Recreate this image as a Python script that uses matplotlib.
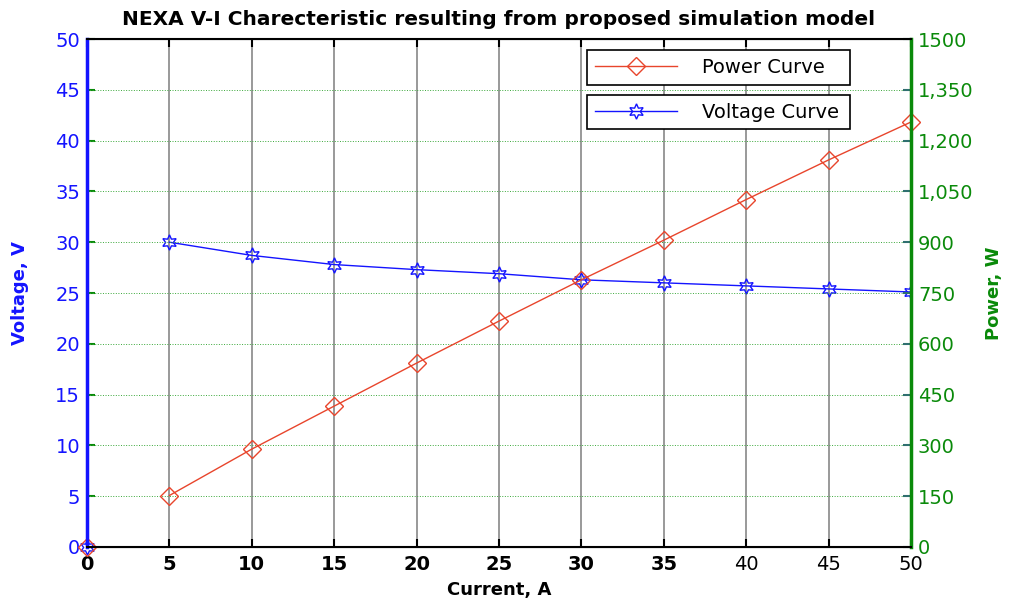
import matplotlib
matplotlib.use("Agg")
import matplotlib.pyplot as plt
import numpy as np

current = [0, 5, 10, 15, 20, 25, 30, 35, 40, 45, 50]
voltage = [0, 30.0, 28.7, 27.8, 27.3, 26.9, 26.3, 26.0, 25.7, 25.4, 25.1]
power = [0, 152, 289, 416, 543, 667, 789, 906, 1026, 1143, 1255]

x_ticks = [0, 5, 10, 15, 20, 25, 30, 35, 40, 45, 50]
v_ticks = [0, 5, 10, 15, 20, 25, 30, 35, 40, 45, 50]
p_ticks = [0, 150, 300, 450, 600, 750, 900, 1050, 1200, 1350, 1500]
p_tick_labels = ["0", "150", "300", "450", "600", "750", "900",
                 "1,050", "1,200", "1,350", "1500"]

plt.rcParams['font.family'] = ['DejaVu Sans']

red = "#e8452c"
blue = "#1414ff"
green = "#0a8a0a"

fig = plt.figure(figsize=(10.09, 6.06), dpi=100)
ax = fig.add_axes([0.0862, 0.0974, 0.8167, 0.8382])
ax2 = ax.twinx()

# voltage on left axis
vline, = ax.plot(current[1:], voltage[1:], color=blue, lw=1, marker=(6, 1, 0), ms=11,
                 mfc="none", mec=blue, label="Voltage Curve")
ax.plot(current[:1], voltage[:1], ls="none", marker=(6, 1, 0), ms=11, mfc="none",
        mec=blue, clip_on=False)

# power on right axis
pline, = ax2.plot(current[1:], power[1:], color=red, lw=1, marker="D", ms=9,
                  mfc="none", mec=red, label="Power Curve", clip_on=False)
ax2.plot(current[:1], power[:1], ls="none", marker="D", ms=9, mfc="none", mec=red,
         clip_on=False)

ax.set_xlim(0, 50)
ax.set_ylim(0, 50)
ax2.set_ylim(0, 1500)
ax.set_xticks(x_ticks)
ax.set_yticks(v_ticks)
ax2.set_yticks(p_ticks)
ax2.set_yticklabels(p_tick_labels)

ax.grid(axis="x", color="#888888", lw=1.2, ls="-")
ax2.grid(axis="y", color="#3aa83a", lw=0.7, ls=":")
ax.set_axisbelow(True)

ax.tick_params(axis="x", direction="in", top=True, length=6, width=1.5, color="black",
               labelsize=14, pad=6)
ax.tick_params(axis="y", direction="in", length=6, width=1.5, color=green,
               labelcolor=blue, labelsize=14, pad=5)
ax2.tick_params(axis="y", direction="in", length=6, width=1.5, color="#2f6f6f",
                labelcolor=green, labelsize=14, pad=5)
for lbl, val in zip(ax.get_xticklabels(), x_ticks):
    if val <= 35:
        lbl.set_fontweight("bold")

for sp in ("top", "bottom"):
    ax2.spines[sp].set_color("black")
    ax2.spines[sp].set_linewidth(1.5)
ax2.spines["left"].set_color(blue)
ax2.spines["left"].set_linewidth(2.5)
ax2.spines["right"].set_color(green)
ax2.spines["right"].set_linewidth(2.5)

ax.set_xlabel("Current, A", fontsize=13, fontweight="bold", labelpad=5)
ax.set_ylabel("Voltage, V", fontsize=13, fontweight="bold", color=blue, labelpad=19)
ax2.set_ylabel("Power, W", fontsize=13, fontweight="bold", color=green, labelpad=8)
ax.set_title("NEXA V-I Charecteristic resulting from proposed simulation model",
             fontsize=14.5, fontweight="bold", pad=10)

ax2.set_zorder(ax.get_zorder() + 1)
ax2.patch.set_visible(False)

leg_kw = dict(fontsize=14, frameon=True, fancybox=False, edgecolor="black",
              handlelength=4.2, borderpad=0.4, handletextpad=1.3, framealpha=1,
              mode="expand", loc="upper left", borderaxespad=0)
leg_p = ax2.legend(handles=[pline], bbox_to_anchor=(0.607, 0.978, 0.319, 0.0), **leg_kw)
leg_p.get_frame().set_linewidth(1.2)
ax2.add_artist(leg_p)
leg_v = ax2.legend(handles=[vline], bbox_to_anchor=(0.607, 0.890, 0.319, 0.0), **leg_kw)
leg_v.get_frame().set_linewidth(1.2)

fig.savefig("out.png", dpi=100)
